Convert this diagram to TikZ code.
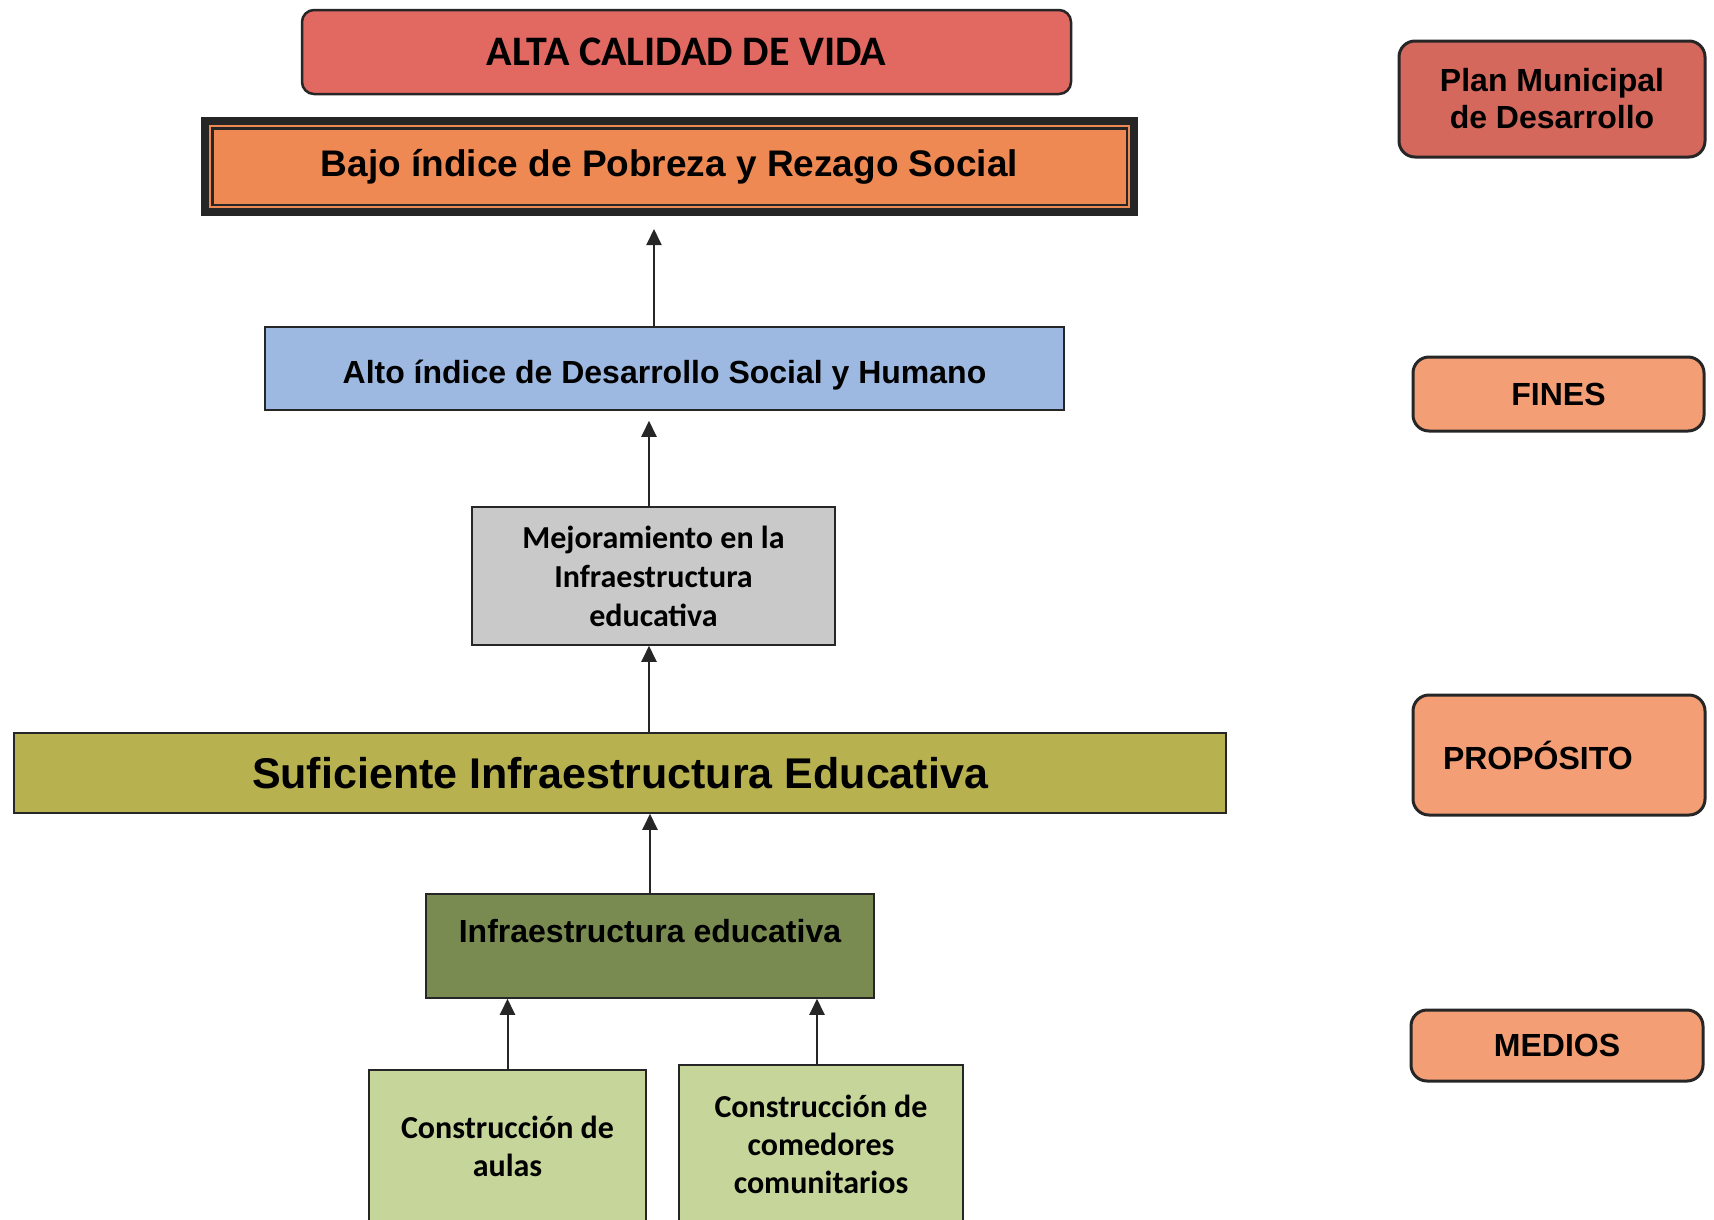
\documentclass[tikz,border=0pt]{standalone}
\usepackage{fontspec}
\setmainfont{Liberation Sans}
\newfontfamily\carlito{Carlito}
\usetikzlibrary{arrows.meta}

\definecolor{altared}{RGB}{226,104,98}
\definecolor{bajoorange}{RGB}{239,137,84}
\definecolor{altoblue}{RGB}{158,185,225}
\definecolor{mejgray}{RGB}{201,201,201}
\definecolor{sufiolive}{RGB}{183,177,80}
\definecolor{infragreen}{RGB}{121,139,81}
\definecolor{constgreen}{RGB}{198,213,154}
\definecolor{planred}{RGB}{213,104,93}
\definecolor{etiq}{RGB}{244,158,118}

\tikzset{
  caja/.style={draw=black!85, line width=1.5pt, inner sep=0pt, align=center,
    font=\bfseries\fontsize{32}{39}\selectfont},
  etiqueta/.style={caja, rounded corners=16pt, line width=3pt, fill=etiq,
    font=\bfseries\fontsize{32}{37}\selectfont},
  flecha/.style={-{Triangle[length=16pt,width=15pt]}, line width=2pt, black!85},
}

\begin{document}
\begin{tikzpicture}[x=1pt,y=-1pt]
\useasboundingbox (0,0) rectangle (1714,1219);

\node[caja, rounded corners=12pt, line width=2.5pt, fill=altared, minimum width=769pt, minimum height=84pt,
  font=\carlito\bfseries\fontsize{42}{46}\selectfont] (alta) at (686.5,52) {ALTA CALIDAD DE VIDA};
\node[caja, line width=8pt, fill=bajoorange, minimum width=929pt, minimum height=91pt,
  font=\bfseries\fontsize{37}{40}\selectfont] (bajo) at (669.5,166.5) {Bajo índice de Pobreza y Rezago Social};
\draw[line width=2.5pt, black!85] ([shift={(11.25pt,-11.25pt)}]bajo.north west) rectangle ([shift={(-11.25pt,11.25pt)}]bajo.south east);

\node[caja, fill=altoblue, minimum width=799pt, minimum height=83pt, text height=36pt, text depth=6pt] (alto) at (664.5,368.5)
  {Alto índice de Desarrollo Social y Humano};
\node[caja, fill=mejgray, minimum width=363pt, minimum height=138pt,
  font=\carlito\bfseries\fontsize{32}{39}\selectfont] (mejora) at (653.5,576)
  {Mejoramiento en la\\Infraestructura\\educativa};
\node[caja, fill=sufiolive, minimum width=1212pt, minimum height=80pt,
  font=\bfseries\fontsize{43}{46}\selectfont] (sufi) at (620,773) {Suficiente Infraestructura Educativa};
\node[caja, fill=infragreen, minimum width=448pt, minimum height=104pt,
  text height=20pt, text depth=27pt] (infra) at (650,946) {Infraestructura educativa};
\node[caja, fill=constgreen, minimum width=277pt, minimum height=152pt,
  font=\carlito\bfseries\fontsize{32}{38}\selectfont] (aulas) at (507.5,1146) {Construcción de\\aulas};
\node[caja, fill=constgreen, minimum width=284pt, minimum height=159pt,
  font=\carlito\bfseries\fontsize{32}{38}\selectfont] (comed) at (821,1144.5)
  {Construcción de\\comedores\\comunitarios};

\node[etiqueta, fill=planred, minimum width=306pt, minimum height=116pt] (plan) at (1552,99)
  {Plan Municipal\\de Desarrollo};
\node[etiqueta, minimum width=291pt, minimum height=74pt] (fines) at (1558.5,394) {FINES};
\node[etiqueta, minimum width=292pt, minimum height=120pt, text width=232pt, align=left] (prop) at (1559,755) {PROPÓSITO};
\node[etiqueta, minimum width=292pt, minimum height=71pt] (medios) at (1557,1045.5) {MEDIOS};

\draw[flecha, shorten >=13pt] ([xshift=-10.5pt]alto.north) -- ([xshift=-10.5pt]alto.north |- bajo.south);
\draw[flecha, shorten >=10pt] ([xshift=-4.5pt]mejora.north) -- ([xshift=-4.5pt]mejora.north |- alto.south);
\draw[flecha] ([xshift=-4.5pt]mejora.south |- sufi.north) -- ([xshift=-4.5pt]mejora.south);
\draw[flecha] (infra.north) -- (infra.north |- sufi.south);
\draw[flecha] (aulas.north) -- (aulas.north |- infra.south);
\draw[flecha] ([xshift=-4pt]comed.north) -- ([xshift=-4pt]comed.north |- infra.south);
\end{tikzpicture}
\end{document}
